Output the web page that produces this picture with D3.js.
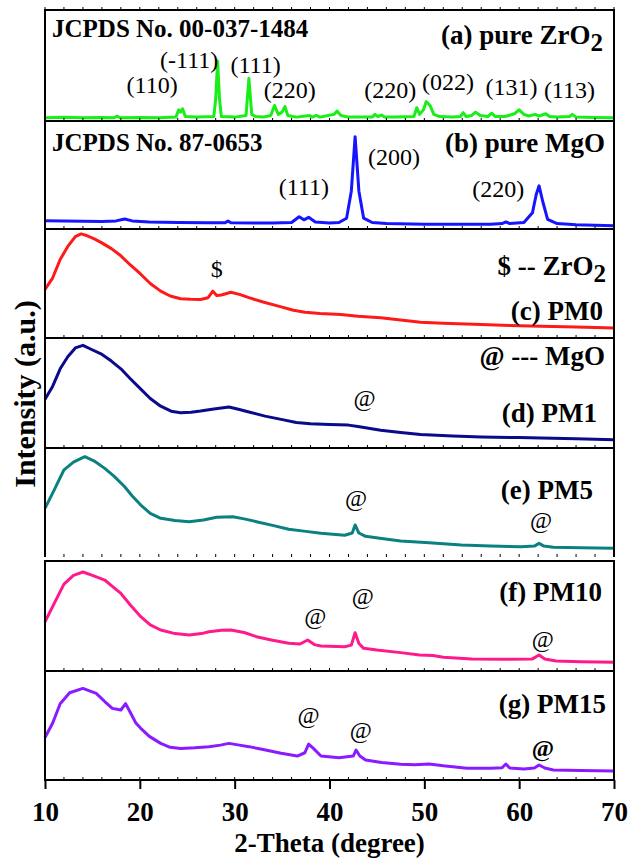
<!DOCTYPE html>
<html>
<head>
<meta charset="utf-8">
<script src="https://cdn.jsdelivr.net/npm/d3@7"></script>
<style>
  body { margin: 0; background: #fff; }
  text { font-family: "Liberation Serif", "Times New Roman", serif; fill: #000; }
</style>
</head>
<body>
<div id="chart"></div>
<script>
// 2-theta values with normalized intensity (0 = panel bottom, 1 = panel top)
const zro2 = [[10,0.03],[12,0.033],[14,0.03],[16,0.032],[17.3,0.03],[17.6,0.045],[17.9,0.03],[20,0.032],[22,0.03],[23.8,0.035],[24.1,0.1],[24.3,0.08],[24.5,0.11],[24.8,0.04],[26,0.035],[27.8,0.04],[28.0,0.2],[28.2,0.54],[28.4,0.2],[28.6,0.04],[30,0.035],[31.2,0.05],[31.5,0.385],[31.8,0.06],[32.2,0.04],[33,0.035],[33.8,0.05],[34.2,0.14],[34.6,0.06],[35.0,0.08],[35.3,0.13],[35.6,0.05],[36.5,0.035],[37.9,0.05],[38.2,0.035],[38.6,0.05],[39,0.035],[40.5,0.06],[40.8,0.09],[41.2,0.05],[42,0.035],[44.5,0.035],[44.8,0.06],[45.1,0.04],[45.5,0.055],[45.8,0.035],[47,0.035],[48.9,0.04],[49.2,0.12],[49.5,0.06],[49.9,0.1],[50.2,0.175],[50.6,0.14],[51,0.06],[51.6,0.04],[53,0.035],[53.8,0.04],[54.1,0.075],[54.4,0.04],[55,0.05],[55.4,0.08],[55.9,0.05],[56.7,0.04],[57.1,0.07],[57.5,0.04],[58.5,0.04],[59.5,0.065],[60,0.1],[60.5,0.06],[61,0.045],[61.7,0.06],[62.1,0.045],[62.8,0.065],[63.2,0.04],[64,0.035],[65.3,0.04],[65.6,0.06],[66,0.035],[68,0.032],[70,0.03]];
const mgo = [[10,0.077],[12,0.075],[14,0.072],[16,0.07],[17.5,0.075],[18.4,0.093],[19.2,0.075],[21,0.065],[24,0.06],[27,0.058],[29,0.058],[29.3,0.075],[29.6,0.058],[32,0.055],[34,0.055],[36,0.06],[36.8,0.114],[37.3,0.085],[37.8,0.108],[38.5,0.065],[40,0.055],[41,0.06],[41.8,0.1],[42.3,0.35],[42.7,0.855],[43.1,0.35],[43.6,0.1],[44.5,0.06],[46,0.05],[50,0.045],[54,0.045],[57,0.045],[58.2,0.05],[58.6,0.065],[59,0.05],[60.5,0.06],[61.4,0.15],[61.8,0.32],[62.1,0.40],[62.5,0.25],[63,0.09],[64,0.05],[66,0.04],[68,0.035],[70,0.03]];
const pm0 = [[10,0.446],[10.8,0.55],[11.6,0.72],[12.4,0.84],[13.2,0.93],[13.8,0.955],[14.4,0.94],[15.2,0.91],[15.9,0.877],[17,0.82],[18,0.754],[19,0.67],[20.1,0.585],[21.1,0.5],[22.2,0.43],[23.2,0.385],[24.3,0.36],[25.4,0.355],[26.4,0.354],[27.2,0.37],[27.7,0.43],[28.1,0.39],[28.6,0.395],[29.6,0.42],[30.5,0.4],[31.5,0.37],[33,0.33],[34.9,0.286],[36.2,0.255],[37.4,0.237],[39,0.225],[41.2,0.215],[43,0.2],[45.4,0.185],[47.5,0.165],[49.6,0.145],[52,0.135],[56,0.123],[59,0.115],[62.3,0.108],[66,0.1],[70,0.092]];
const pm1 = [[10,0.443],[10.8,0.56],[11.6,0.72],[12.4,0.83],[13.2,0.91],[14,0.933],[14.8,0.9],[15.9,0.856],[17,0.79],[18,0.72],[19,0.63],[20.1,0.535],[21.1,0.45],[22.2,0.38],[23.3,0.335],[24.3,0.32],[25.4,0.325],[26.4,0.336],[27.8,0.355],[29.4,0.373],[30.5,0.35],[31.5,0.327],[33.2,0.29],[34.9,0.26],[36.5,0.232],[38,0.22],[40,0.213],[42,0.208],[43,0.195],[45.4,0.162],[47.5,0.14],[49.6,0.122],[53,0.108],[56,0.1],[60,0.095],[62.3,0.092],[66,0.085],[70,0.076]];
const pm5 = [[10,0.446],[11,0.62],[12,0.8],[13,0.87],[14.2,0.92],[15.2,0.88],[16.3,0.813],[17.3,0.74],[18.4,0.645],[19.2,0.56],[20.1,0.477],[21.1,0.4],[22.2,0.355],[23.7,0.335],[25.2,0.324],[26.7,0.34],[28.1,0.364],[29.8,0.37],[31,0.35],[32.3,0.324],[34,0.29],[35.7,0.254],[37.5,0.235],[39.1,0.217],[41.6,0.2],[42.4,0.22],[42.7,0.294],[43.1,0.22],[43.8,0.19],[45.5,0.17],[47.5,0.147],[50.5,0.13],[53.9,0.11],[57,0.1],[60.2,0.095],[61.6,0.1],[62.1,0.125],[62.6,0.1],[63.6,0.089],[66.5,0.085],[70,0.08]];
const pm10 = [[10,0.448],[11,0.62],[12,0.79],[13,0.87],[14,0.9],[15,0.87],[16.3,0.827],[17.1,0.77],[18,0.706],[19,0.6],[20.1,0.494],[21.1,0.42],[22.2,0.373],[23.7,0.34],[25.2,0.327],[26.5,0.34],[27.3,0.357],[28.6,0.37],[29.6,0.373],[31,0.35],[32.3,0.312],[34,0.28],[35.7,0.252],[36.9,0.245],[37.7,0.282],[38.4,0.24],[39.1,0.227],[41.6,0.221],[42.3,0.235],[42.7,0.348],[43.1,0.25],[43.6,0.206],[45,0.19],[47.5,0.167],[49.5,0.145],[50.9,0.14],[52,0.125],[55,0.11],[58.5,0.106],[61.4,0.11],[62.1,0.145],[62.7,0.11],[63.9,0.091],[66.5,0.085],[70,0.079]];
const pm15 = [[10,0.39],[10.8,0.52],[11.6,0.7],[12.6,0.8],[14,0.84],[15.4,0.795],[16.3,0.72],[17.1,0.657],[18,0.642],[18.5,0.70],[19,0.62],[19.6,0.52],[20.1,0.474],[21,0.4],[22.2,0.336],[23.2,0.3],[24.3,0.29],[25.8,0.295],[27.3,0.306],[28.5,0.32],[29.4,0.336],[30.5,0.32],[31.5,0.306],[33,0.28],[34.9,0.245],[36.6,0.22],[37.4,0.25],[37.8,0.33],[38.3,0.29],[39.1,0.22],[41,0.205],[42.5,0.22],[42.8,0.275],[43.2,0.22],[43.8,0.183],[45.5,0.16],[47.5,0.144],[49,0.14],[50.5,0.147],[52,0.13],[54.5,0.107],[57,0.107],[58.2,0.112],[58.6,0.147],[59,0.11],[60.5,0.102],[61.6,0.11],[62.1,0.138],[62.7,0.11],[63.6,0.092],[66.5,0.088],[70,0.083]];

const seriesList = [zro2, mgo, pm0, pm1, pm5, pm10, pm15];
const seriesColors = ["#19ee19", "#1515ff", "#ff1a1a", "#0a0a8a", "#0a8080", "#ff1a8c", "#8a1aff"];
const xTicks = [10, 20, 30, 40, 50, 60, 70];

// peak labels: [2theta, text]
const hklLabels = [
  [21.3, "(110)"], [25.2, "(-111)"], [32.2, "(111)"], [35.8, "(220)"],
  [46.4, "(220)"], [52.5, "(022)"], [59.2, "(131)"], [65.3, "(113)"],
  [37.3, "(111)"], [46.8, "(200)"], [57.8, "(220)"]
];
const hklY = [93, 68, 73, 98, 98, 90, 95, 98, 195, 165, 197];
// phase markers: [2theta, text]
const markers = [[28.1, "$"], [43.7, "@"], [42.8, "@"], [62.3, "@"], [38.5, "@"], [43.5, "@"], [62.5, "@"], [37.8, "@"], [43.3, "@"], [62.5, "@"]];
const markerY = [277, 406, 506, 528, 624, 604, 647, 723, 738, 756];

// panel names: [text, subscript, right edge, baseline]
const panelNames = [
  ["(a) pure ZrO", "2", 603, 44], ["(b) pure MgO", "", 605, 152],
  ["$ -- ZrO", "2", 606, 275], ["(c) PM0", "", 603, 320],
  ["@ --- MgO", "", 605, 365], ["(d) PM1", "", 597, 422],
  ["(e) PM5", "", 593, 499], ["(f) PM10", "", 602, 601],
  ["(g) PM15", "", 606, 713]
];

const W = 629, H = 860;
const left = 45, right = 614;
const panelTops = [10, 121, 229, 338, 448, 561, 671];
const panelBottoms = [121, 229, 338, 448, 557, 671, 780];

const svg = d3.select("#chart").append("svg")
  .attr("width", W).attr("height", H);

const x = d3.scaleLinear().domain([10, 70]).range([left, right]);
const minor = d3.range(10, 70.1, 2);

seriesList.forEach((data, i) => {
  const y = d3.scaleLinear().domain([0, 1]).range([panelBottoms[i], panelTops[i]]);
  const line = d3.line().x(d => x(d[0])).y(d => y(d[1]));

  svg.append("path")
    .datum(data)
    .attr("d", line)
    .style("fill", "none")
    .style("stroke", seriesColors[i])
    .style("stroke-width", 3)
    .style("stroke-linejoin", "round");

  // small ticks along each panel bottom
  svg.append("g")
    .selectAll("line")
    .data(minor)
    .enter().append("line")
    .attr("x1", d => x(d)).attr("x2", d => x(d))
    .attr("y1", panelBottoms[i]).attr("y2", panelBottoms[i] - 3)
    .style("stroke", "#000").style("stroke-width", 1);

  // panel frame (panel e is left open at the bottom, as in the figure)
  const t = panelTops[i], b = panelBottoms[i];
  const frame = i === 4
    ? `M${left},${b}V${t}H${right}V${b}`
    : `M${left},${t}H${right}V${b}H${left}Z`;
  svg.append("path")
    .attr("d", frame)
    .style("fill", "none").style("stroke", "#000").style("stroke-width", 2);
});

// top minor ticks, pointing outward
svg.append("g")
  .selectAll("line")
  .data(minor)
  .enter().append("line")
  .attr("x1", d => x(d)).attr("x2", d => x(d))
  .attr("y1", panelTops[0]).attr("y2", panelTops[0] - 3)
  .style("stroke", "#000").style("stroke-width", 1);

// bottom axis
const xAxis = d3.axisBottom(x).tickValues(xTicks).tickFormat(d3.format("d")).tickSize(9);
const gx = svg.append("g")
  .attr("transform", `translate(0, ${panelBottoms[6]})`)
  .call(xAxis);
gx.select(".domain").remove();
gx.selectAll(".tick line").style("stroke-width", 2);
gx.selectAll(".tick text")
  .attr("y", 22)
  .style("font-family", "'Liberation Serif', serif")
  .style("font-size", "27px").style("font-weight", "bold").style("fill", "#000");

svg.append("text")
  .attr("x", (left + right) / 2).attr("y", 852)
  .attr("text-anchor", "middle")
  .style("font-size", "27px").style("font-weight", "bold")
  .text("2-Theta (degree)");

svg.append("text")
  .attr("transform", "translate(35, 394) rotate(-90)")
  .attr("text-anchor", "middle")
  .style("font-size", "30px").style("font-weight", "bold")
  .text("Intensity (a.u.)");

// JCPDS cards
svg.append("text").attr("x", 52).attr("y", 37)
  .style("font-size", "25px").style("font-weight", "bold")
  .text("JCPDS No. 00-037-1484");
svg.append("text").attr("x", 52).attr("y", 151)
  .style("font-size", "25px").style("font-weight", "bold")
  .text("JCPDS No. 87-0653");

panelNames.forEach(p => {
  const t = svg.append("text")
    .attr("x", p[2]).attr("y", p[3])
    .attr("text-anchor", "end")
    .style("font-size", "27px").style("font-weight", "bold");
  t.append("tspan").text(p[0]);
  if (p[1]) {
    t.append("tspan").attr("dy", 7).style("font-size", "25px").text(p[1]);
  }
});

svg.append("g")
  .selectAll("text")
  .data(hklLabels)
  .enter().append("text")
  .attr("x", d => x(d[0]))
  .attr("y", (d, i) => hklY[i])
  .attr("text-anchor", "middle")
  .style("font-size", "24px")
  .text(d => d[1]);

svg.append("g")
  .selectAll("text")
  .data(markers)
  .enter().append("text")
  .attr("x", d => x(d[0]))
  .attr("y", (d, i) => markerY[i])
  .attr("text-anchor", "middle")
  .style("font-size", "24px")
  .style("font-weight", (d, i) => i === markers.length - 1 ? "bold" : "normal")
  .text(d => d[1]);
</script>
</body>
</html>
